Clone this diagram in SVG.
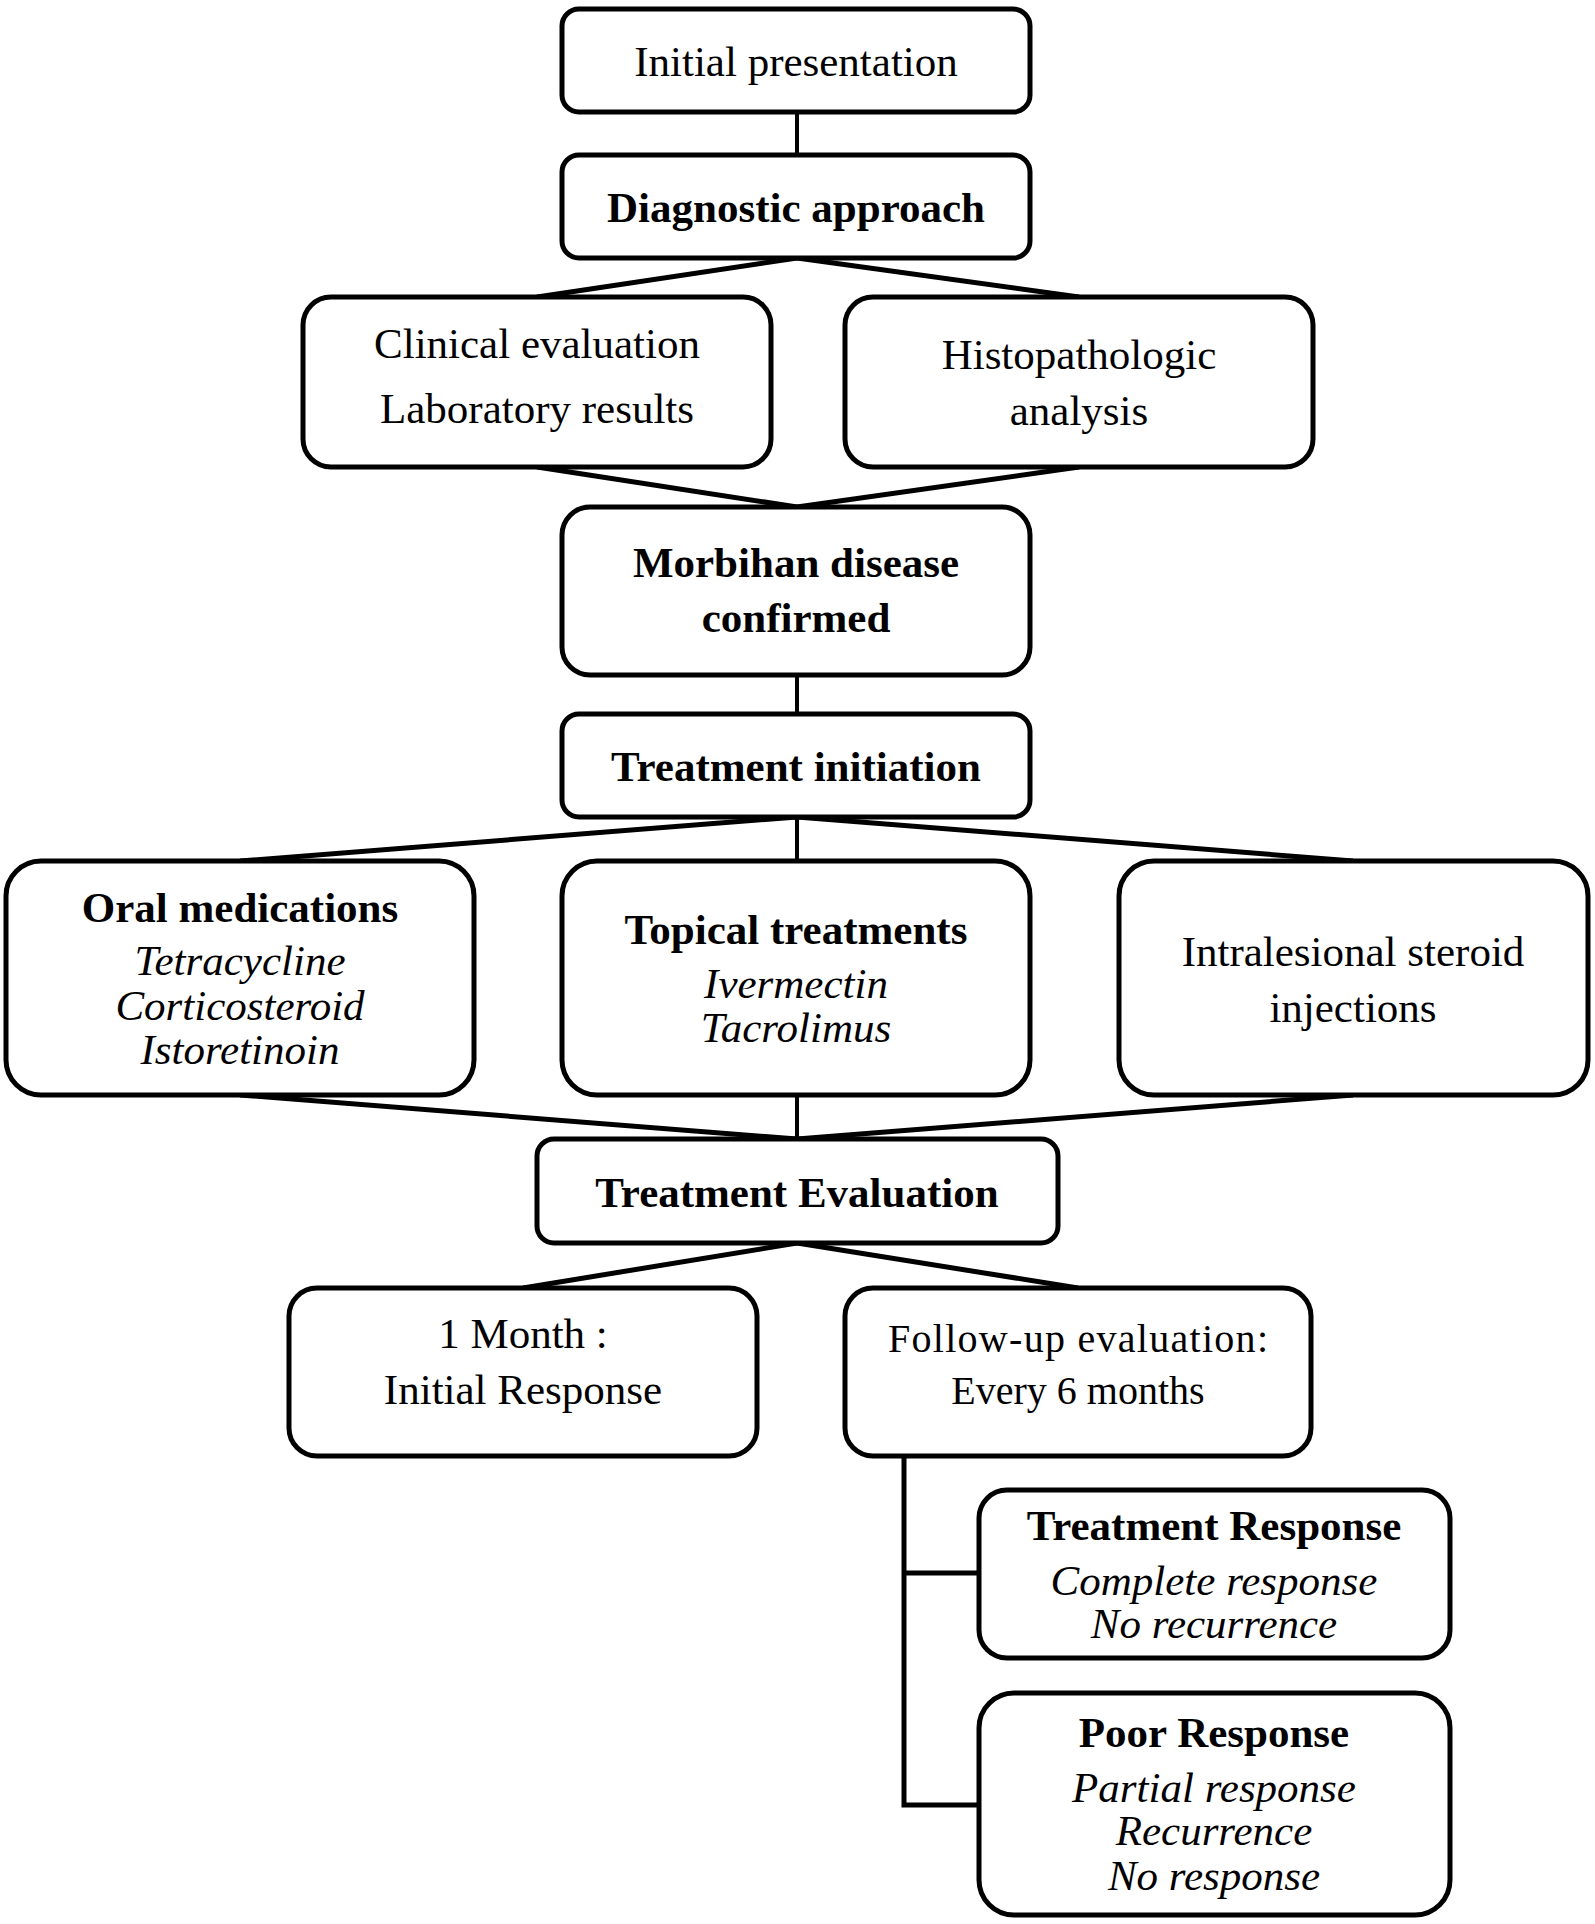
<svg xmlns="http://www.w3.org/2000/svg" width="1595" height="1924" viewBox="0 0 1595 1924">
<style>
.box{fill:#fff;stroke:#000;stroke-width:5}
.c{stroke:#000;stroke-width:5;fill:none;stroke-linecap:butt}
.v{stroke:#000;stroke-width:4;fill:none}
text{font-family:"Liberation Serif","Times New Roman",serif;font-size:43px;fill:#000;text-anchor:middle}
.b{font-weight:bold}
.i{font-style:italic}
</style>
<rect width="1595" height="1924" fill="#fff"/>
<g id="connectors">
<line class="v" x1="797" y1="112" x2="797" y2="155"/>
<line class="c" x1="797" y1="258" x2="537" y2="297"/>
<line class="c" x1="797" y1="258" x2="1079" y2="297"/>
<line class="c" x1="537" y1="467" x2="797" y2="507"/>
<line class="c" x1="1079" y1="467" x2="797" y2="507"/>
<line class="v" x1="797" y1="675" x2="797" y2="714"/>
<line class="c" x1="797" y1="817" x2="240" y2="861"/>
<line class="v" x1="797" y1="817" x2="797" y2="861"/>
<line class="c" x1="797" y1="817" x2="1353" y2="861"/>
<line class="c" x1="240" y1="1095" x2="797" y2="1139"/>
<line class="v" x1="797" y1="1095" x2="797" y2="1139"/>
<line class="c" x1="1353" y1="1095" x2="797" y2="1139"/>
<line class="c" x1="797" y1="1243" x2="523" y2="1288"/>
<line class="c" x1="797" y1="1243" x2="1078" y2="1288"/>
<polyline class="c" points="904,1456 904,1805 979,1805"/>
<line class="c" x1="904" y1="1573" x2="979" y2="1573"/>
</g>
<g id="n1"><rect class="box" x="562" y="9" width="468" height="103" rx="17"/><text x="796" y="76">Initial presentation</text></g>
<g id="n2"><rect class="box" x="562" y="155" width="468" height="103" rx="17"/><text class="b" x="796" y="222">Diagnostic approach</text></g>
<g id="n3"><rect class="box" x="303" y="297" width="468" height="170" rx="28"/><text x="537" y="358">Clinical evaluation</text><text x="537" y="423">Laboratory results</text></g>
<g id="n4"><rect class="box" x="845" y="297" width="468" height="170" rx="28"/><text x="1079" y="369">Histopathologic</text><text x="1079" y="425">analysis</text></g>
<g id="n5"><rect class="box" x="562" y="507" width="468" height="168" rx="28"/><text class="b" x="796" y="577">Morbihan disease</text><text class="b" x="796" y="632">confirmed</text></g>
<g id="n6"><rect class="box" x="562" y="714" width="468" height="103" rx="17"/><text class="b" x="796" y="781">Treatment initiation</text></g>
<g id="n7"><rect class="box" x="6" y="861" width="468" height="234" rx="35"/><text class="b" x="240" y="922">Oral medications</text><text class="i" x="240" y="975">Tetracycline</text><text class="i" x="240" y="1020">Corticosteroid</text><text class="i" x="240" y="1064">Istoretinoin</text></g>
<g id="n8"><rect class="box" x="562" y="861" width="468" height="234" rx="35"/><text class="b" x="796" y="944">Topical treatments</text><text class="i" x="796" y="998">Ivermectin</text><text class="i" x="796" y="1042">Tacrolimus</text></g>
<g id="n9"><rect class="box" x="1119" y="861" width="469" height="234" rx="35"/><text x="1353" y="966">Intralesional steroid</text><text x="1353" y="1022">injections</text></g>
<g id="n10"><rect class="box" x="537" y="1139" width="521" height="104" rx="17"/><text class="b" x="797" y="1207">Treatment Evaluation</text></g>
<g id="n11"><rect class="box" x="289" y="1288" width="468" height="168" rx="28"/><text x="523" y="1348">1 Month :</text><text x="523" y="1404">Initial Response</text></g>
<g id="n12"><rect class="box" x="845" y="1288" width="466" height="168" rx="28"/><text x="1078" y="1352" style="font-size:40px" textLength="380" lengthAdjust="spacing">Follow-up evaluation:</text><text x="1078" y="1404" style="font-size:40px">Every 6 months</text></g>
<g id="n13"><rect class="box" x="979" y="1490" width="471" height="168" rx="28"/><text class="b" x="1214" y="1540">Treatment Response</text><text class="i" x="1214" y="1595">Complete response</text><text class="i" x="1214" y="1638">No recurrence</text></g>
<g id="n14"><rect class="box" x="979" y="1693" width="471" height="222" rx="35"/><text class="b" x="1214" y="1747">Poor Response</text><text class="i" x="1214" y="1802">Partial response</text><text class="i" x="1214" y="1845">Recurrence</text><text class="i" x="1214" y="1890">No response</text></g>
</svg>
